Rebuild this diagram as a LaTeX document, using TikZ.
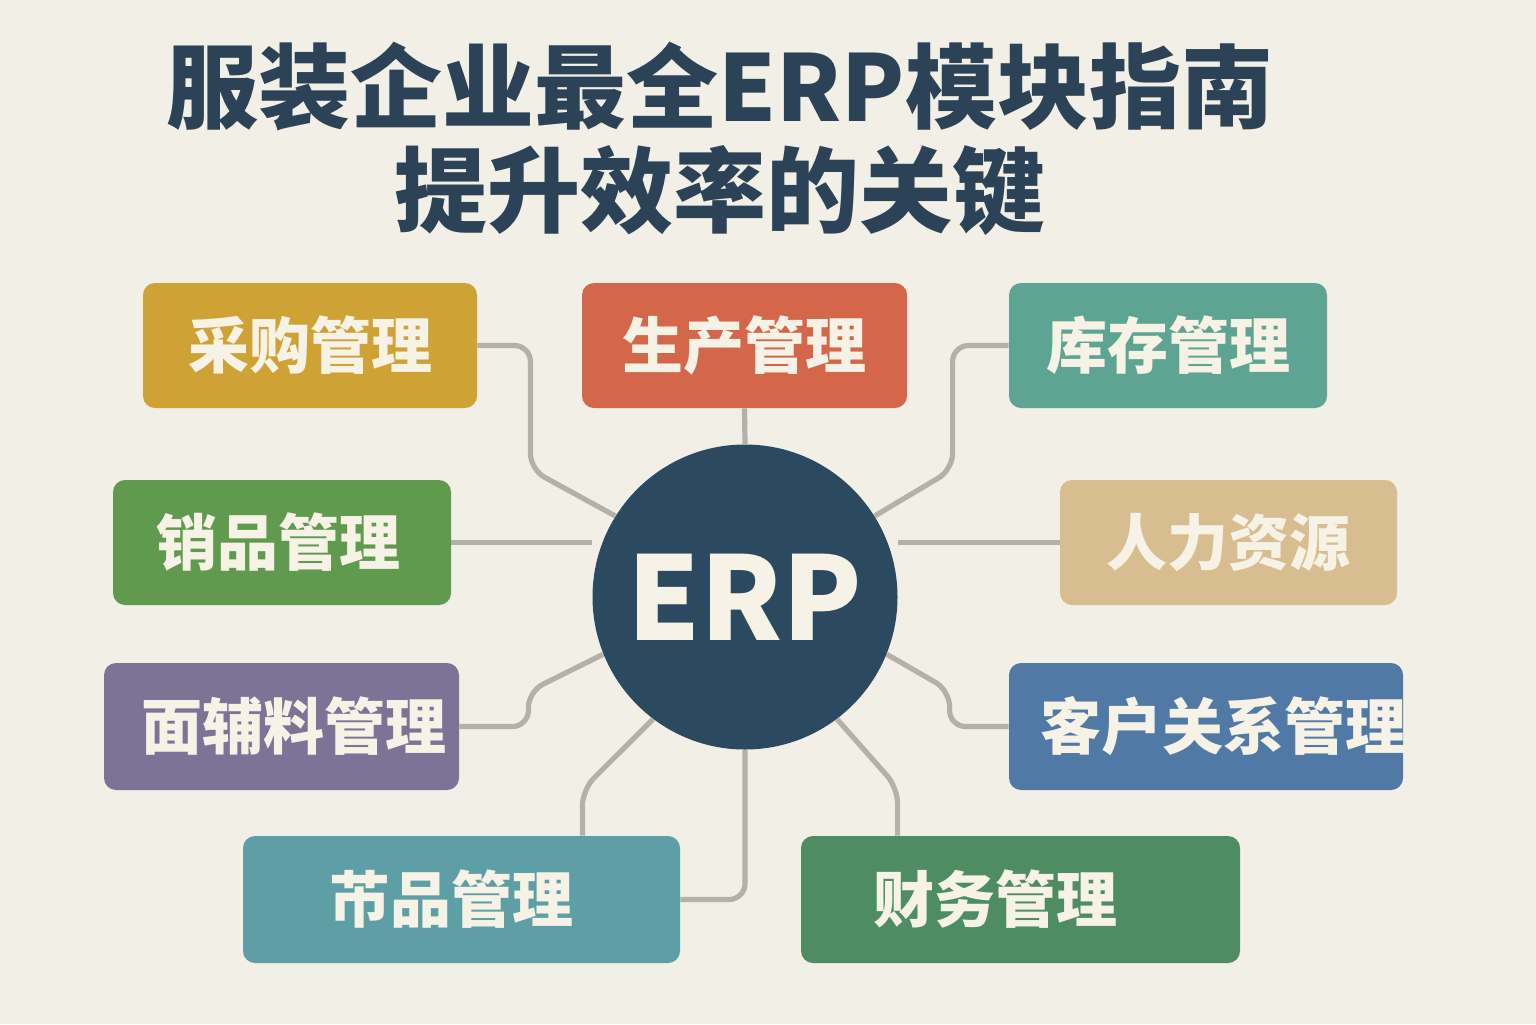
\documentclass[tikz,border=0pt]{standalone}
\usepackage{fontspec}
\newfontfamily\cjk{Noto Sans CJK SC}
\usetikzlibrary{backgrounds}
\definecolor{bgc}{HTML}{F2EFE6}
\definecolor{titlec}{HTML}{2C4257}
\definecolor{navy}{HTML}{2B4A60}
\definecolor{cream}{HTML}{F7F2E6}
\definecolor{linec}{HTML}{B3B1A8}
\definecolor{cmustard}{HTML}{CFA236}
\definecolor{corange}{HTML}{D4674A}
\definecolor{cteal}{HTML}{5EA493}
\definecolor{cgreen}{HTML}{5F9A4F}
\definecolor{cbeige}{HTML}{D7BD8F}
\definecolor{cpurple}{HTML}{7C7397}
\definecolor{cblue}{HTML}{5079A5}
\definecolor{cteal2}{HTML}{5E9FA5}
\definecolor{cdgreen}{HTML}{4E8D63}
\begin{document}
\begin{tikzpicture}[x=0.5pt,y=-0.5pt,
  box/.style={rectangle, rounded corners=6pt, minimum height=62.5pt, inner sep=0pt},
  txt/.style={text=cream, inner sep=0pt, font=\cjk\bfseries\fontsize{30.5}{32}\selectfont},
  titletxt/.style={text=titlec, inner sep=0pt},
  conn/.style={draw=linec, line width=2.6pt, rounded corners=8pt},
]
% title
\node[titletxt, font=\cjk\bfseries\fontsize{46}{48}\selectfont] (t1) at (720,87) {服装企业最全ERP模块指南};
\node[titletxt, font=\cjk\bfseries\fontsize{46.5}{48}\selectfont] (t2) at (720,191) {提升效率的关键};

% boxes
\node[box, fill=cmustard, minimum width=167pt, label={[txt]center:采购管理}] (b1) at (310,345.5) {};
\node[box, fill=corange, minimum width=162.5pt, label={[txt]center:生产管理}] (b2) at (744.5,345.5) {};
\node[box, fill=cteal, minimum width=159pt, label={[txt]center:库存管理}] (b3) at (1168,345.5) {};
\node[box, fill=cgreen, minimum width=169pt, label={[txt, xshift=-2pt]center:销品管理}] (b4) at (282,542.5) {};
\node[box, fill=cbeige, minimum width=168.5pt, label={[txt]center:人力资源}] (b5) at (1228.5,542.5) {};
\node[box, fill=cpurple, minimum width=177.5pt, minimum height=63.5pt, label={[txt, xshift=6pt]center:面辅料管理}] (b6) at (281.5,726.5) {};
\node[box, fill=cblue, minimum width=197pt, minimum height=63.5pt, label={[txt, xshift=8.5pt]center:客户关系管理}] (b7) at (1206,726.5) {};
\node[box, fill=cteal2, minimum width=218.5pt, minimum height=63.5pt, label={[txt, xshift=-5pt]center:芇品管理}] (b8) at (461.5,899.5) {};
\node[box, fill=cdgreen, minimum width=219.5pt, minimum height=63.5pt, label={[txt, xshift=-12.5pt]center:财务管理}] (b9) at (1020.5,899.5) {};

% center
\node[circle, fill=navy, minimum size=152.5pt, inner sep=0pt, text=cream,
      font=\cjk\bfseries\fontsize{58}{58}\selectfont] (erp) at (745,597) {ERP};

\begin{scope}[on background layer]
  \fill[bgc] (0,0) rectangle (1536,1024);
  \draw[conn] (b1.east) -- ++(53,0) -- ++(0,124) -- (erp.148);
  \draw[conn] (b2.south) -- (erp.north);
  \draw[conn] (b3.west) -- ++(-56,0) -- ++(0,124) -- (erp.32);
  \draw[conn] (b4.east) -- (b4.east -| erp.west);
  \draw[conn] (b5.west) -- (b5.west -| erp.east);
  \draw[conn] (b6.east) -- ++(69,0) -- ++(0,-35) -- (erp.202);
  \draw[conn] (b7.west) -- ++(-59,0) -- ++(0,-36) -- (erp.-22);
  \draw[conn] ([xshift=-49pt]b8.north east) -- ++(0,-46) -- (erp.233);
  \draw[conn] (erp.south) |- (b8.east);
  \draw[conn] ([xshift=48.5pt]b9.north west) -- ++(0,-48) -- (erp.-53);
\end{scope}
\end{tikzpicture}
\end{document}
